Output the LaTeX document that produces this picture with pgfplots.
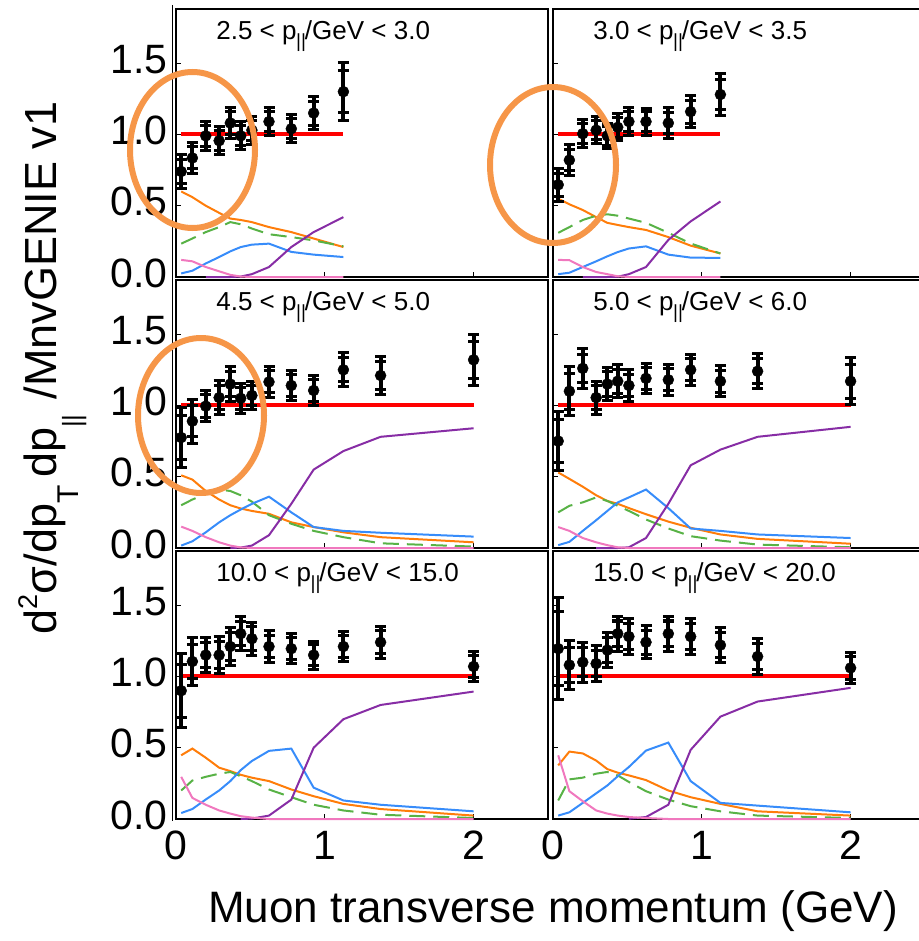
\documentclass[border=0pt]{standalone}
\usepackage{fontspec}
\setmainfont{Liberation Sans}
\usepackage{pgfplots}
\usepackage{pgfplotstable}
\pgfplotsset{compat=1.18}

\definecolor{cqe}{RGB}{255,125,10}
\definecolor{cnp}{RGB}{88,178,70}
\definecolor{cres}{RGB}{55,140,250}
\definecolor{cdis}{RGB}{135,45,165}
\definecolor{ccoh}{RGB}{240,120,190}
\definecolor{chl}{RGB}{246,150,72}

% columns: pT bin centre, data/MC ratio, total error, stat error,
% QE, 2p2h, resonant, DIS, coherent (all relative to MnvGENIE v1)
\pgfplotstableread{
x     d     et    es    qe    np    res   dis   coh
0.035 0.74  0.120 0.086 0.60  0.234 0.025 nan   0.12
0.11  0.835 0.107 0.077 0.56  0.27  0.044 nan   0.11
0.2   0.99  0.104 0.075 0.50  0.315 0.095 0     0.07
0.29  0.956 0.097 0.070 0.45  0.35  0.14  0     0.04
0.365 1.08  0.110 0.079 0.41  0.385 0.18  0     0.015
0.435 0.99  0.098 0.071 0.40  0.37  0.21  0.003 0.003
0.51  1.03  0.098 0.071 0.385 0.34  0.227 0.02  0
0.625 1.09  0.098 0.071 0.35  0.30  0.234 0.07  0
0.775 1.04  0.097 0.070 0.315 0.28  0.176 0.21  0
0.925 1.15  0.116 0.084 0.27  0.257 0.157 0.315 0
1.125 1.30  0.205 0.148 0.21  0.215 0.14  0.42  0
}\tabA
\pgfplotstableread{
x     d     et    es    qe    np    res   dis   coh
0.035 0.647 0.114 0.082 0.55  0.31  0.02  nan   0.12
0.11  0.82  0.106 0.076 0.51  0.35  0.03  nan   0.118
0.2   1.005 0.098 0.071 0.47  0.40  0.07  0     0.07
0.29  1.03  0.094 0.068 0.42  0.43  0.11  0     0.035
0.365 0.99  0.090 0.065 0.38  0.44  0.145 0     0.02
0.435 1.05  0.094 0.068 0.365 0.43  0.175 0.002 0.005
0.51  1.09  0.100 0.072 0.35  0.41  0.20  0.02  0
0.625 1.09  0.094 0.068 0.33  0.38  0.215 0.07  0
0.775 1.08  0.106 0.076 0.28  0.31  0.157 0.26  0
0.925 1.16  0.112 0.081 0.22  0.235 0.136 0.39  0
1.125 1.28  0.147 0.106 0.165 0.165 0.134 0.53  0
}\tabB
\pgfplotstableread{
x     d     et    es    qe    np    res   dis   coh
0.035 0.775 0.213 0.153 0.51  0.30  0.017 nan   0.15
0.11  0.89  0.154 0.111 0.48  0.34  0.047 nan   0.12
0.2   0.995 0.110 0.079 0.40  0.38  0.11  nan   0.076
0.29  1.055 0.118 0.085 0.34  0.41  0.18  nan   0.04
0.365 1.15  0.120 0.086 0.30  0.40  0.23  0     0.017
0.435 1.05  0.107 0.077 0.277 0.37  0.27  0.003 0.004
0.51  1.07  0.100 0.072 0.26  0.325 0.31  0.017 0
0.625 1.165 0.107 0.077 0.24  0.23  0.36  0.09  0
0.775 1.14  0.107 0.077 0.18  0.17  0.25  0.31  0
0.925 1.105 0.107 0.077 0.147 0.12  0.147 0.55  0
1.125 1.25  0.118 0.085 0.11  0.076 0.12  0.68  0
1.375 1.21  0.134 0.096 0.076 0.033 0.107 0.78  0
2.0   1.32  0.178 0.128 0.04  0.01  0.08  0.84  0
}\tabC
\pgfplotstableread{
x     d     et    es    qe    np    res   dis   coh
0.035 0.75  0.207 0.149 0.53  0.25  0.02  nan   0.147
0.11  1.10  0.174 0.125 0.485 0.296 0.043 nan   0.12
0.2   1.26  0.139 0.100 0.43  0.32  0.12  nan   0.07
0.29  1.055 0.115 0.083 0.37  0.355 0.195 0     0.04
0.365 1.15  0.118 0.085 0.33  0.33  0.26  0     0.02
0.435 1.17  0.116 0.084 0.31  0.296 0.32  0     0.005
0.51  1.14  0.109 0.078 0.28  0.26  0.355 0.005 0
0.625 1.19  0.107 0.077 0.237 0.20  0.41  0.07  0
0.775 1.18  0.107 0.077 0.185 0.137 0.28  0.31  0
0.925 1.25  0.107 0.077 0.142 0.083 0.137 0.58  0
1.125 1.17  0.107 0.077 0.095 0.052 0.12  0.69  0
1.375 1.24  0.122 0.088 0.064 0.024 0.095 0.78  0
2.0   1.17  0.166 0.120 0.03  0.005 0.07  0.85  0
}\tabD
\pgfplotstableread{
x     d     et    es    qe    np    res   dis   coh
0.035 0.90  0.259 0.186 0.447 0.20  0.042 nan   0.296
0.11  1.105 0.168 0.121 0.494 0.27  0.07  nan   0.148
0.2   1.15  0.124 0.089 0.43  0.296 0.137 nan   0.10
0.29  1.15  0.132 0.095 0.36  0.318 0.20  nan   0.06
0.365 1.21  0.133 0.096 0.336 0.33  0.266 nan   0.038
0.435 1.30  0.120 0.086 0.31  0.30  0.343 0     0.02
0.51  1.265 0.115 0.083 0.29  0.266 0.407 0.003 0.01
0.625 1.21  0.109 0.078 0.266 0.207 0.478 0.024 0
0.775 1.195 0.106 0.076 0.207 0.153 0.494 0.136 0
0.925 1.15  0.098 0.071 0.16  0.10  0.22  0.50  0
1.125 1.21  0.104 0.075 0.106 0.06  0.13  0.70  0
1.375 1.24  0.112 0.081 0.07  0.03  0.10  0.80  0
2.0   1.07  0.107 0.077 0.024 0.007 0.054 0.894 0
}\tabE
\pgfplotstableread{
x     d     et    es    qe    np    res   dis   coh
0.035 1.195 0.359 0.258 0.376 0.13  0.024 nan   0.447
0.11  1.08  0.169 0.122 0.473 0.278 0.047 nan   0.195
0.2   1.10  0.141 0.102 0.46  0.29  0.113 nan   0.125
0.29  1.09  0.126 0.091 0.41  0.318 0.18  nan   0.06
0.365 1.185 0.124 0.089 0.35  0.33  0.235 nan   0.038
0.435 1.30  0.124 0.089 0.325 0.306 0.30  nan   0.024
0.51  1.28  0.124 0.089 0.306 0.26  0.365 0.002 0.014
0.625 1.24  0.115 0.083 0.273 0.195 0.48  0.014 0.007
0.775 1.30  0.124 0.089 0.20  0.136 0.536 0.10  0
0.925 1.28  0.124 0.089 0.153 0.09  0.266 0.485 0
1.125 1.22  0.122 0.088 0.106 0.054 0.113 0.718 0
1.375 1.14  0.124 0.089 0.054 0.024 0.094 0.824 0
2.0   1.06  0.108 0.078 0.024 0.007 0.047 0.92  0
}\tabF

\pgfplotsset{
  panel/.style={
    scale only axis, width=372pt, height=268pt,
    xmin=0, xmax=2.5, ymin=0, ymax=1.88,
    clip=false, anchor=south west,
    axis line style={line width=1.6pt},
    xtick={0,1,2}, ytick={0,0.5,1,1.5},
    xtick pos=left, ytick pos=left,
    tick align=inside, major tick length=5pt,
    every tick/.style={black, line width=1.2pt},
    xticklabels={}, yticklabels={},
  },
  ylabs/.style={
    yticklabels={0.0,0.5,1.0,1.5},
    yticklabel style={font=\fontsize{41}{41}\selectfont, inner sep=0pt,
      anchor=east, xshift=-8pt, yshift=4pt},
  },
  xlabs/.style={
    xticklabels={0,1,2},
    xticklabel style={font=\fontsize{41}{41}\selectfont, inner sep=0pt,
      anchor=north, yshift=-12pt},
  },
  databars/.style={
    error bars/.cd, y dir=both, y explicit,
    error bar style={line width=4pt, black},
    error mark options={black, rotate=90, line width=3pt, mark size=5.5pt},
  },
}

\newcommand{\pll}{p\kern-0.5pt\raisebox{-8pt}{\fontsize{19}{19}\selectfont ||}\kern-1pt}
\newcommand{\bintitle}[1]{\node[anchor=base west, inner sep=0pt,
  font=\fontsize{26}{26}\selectfont] at (rel axis cs:0.108,0.886) {#1};}

% model components, unit reference line, and data with total and
% statistical error bars
\newcommand{\panelcontent}[2]{%
  \addplot[cqe, line width=2pt] table[x=x, y=qe] {#1};
  \addplot[cnp, line width=2pt, dash pattern=on 16pt off 8pt] table[x=x, y=np] {#1};
  \addplot[cres, line width=2pt] table[x=x, y=res] {#1};
  \addplot[cdis, line width=2pt] table[x=x, y=dis] {#1};
  \addplot[ccoh, line width=2pt] table[x=x, y=coh] {#1};
  \addplot[red, line width=4pt] coordinates {(0.035,1) (#2,1)};
  \addplot[black, only marks, mark=*, mark size=5.5pt, databars]
    table[x=x, y=d, y error=et] {#1};
  \addplot[black, only marks, mark=none, databars]
    table[x=x, y=d, y error=es] {#1};
}

\begin{document}
\begin{tikzpicture}
\path[use as bounding box] (0pt,0pt) rectangle (918pt,-941pt);

% top row
\begin{axis}[panel, ylabs, at={(176pt,-277pt)}]
  \panelcontent{\tabA}{1.125}
  \bintitle{2.5 < \pll/GeV < 3.0}
\end{axis}
\begin{axis}[panel, at={(553pt,-277pt)}]
  \panelcontent{\tabB}{1.125}
  \bintitle{3.0 < \pll/GeV < 3.5}
\end{axis}

% middle row
\begin{axis}[panel, ylabs, at={(176pt,-548pt)}]
  \panelcontent{\tabC}{2.0}
  \bintitle{4.5 < \pll/GeV < 5.0}
\end{axis}
\begin{axis}[panel, at={(553pt,-548pt)}]
  \panelcontent{\tabD}{2.0}
  \bintitle{5.0 < \pll/GeV < 6.0}
\end{axis}

% bottom row
\begin{axis}[panel, ylabs, xlabs, at={(176pt,-819pt)}]
  \panelcontent{\tabE}{2.0}
  \bintitle{10.0 < \pll/GeV < 15.0}
\end{axis}
\begin{axis}[panel, xlabs, at={(553pt,-819pt)}]
  \panelcontent{\tabF}{2.0}
  \bintitle{15.0 < \pll/GeV < 20.0}
\end{axis}

% outer frame line on the left of the panel column
\draw[line width=1.2pt] (172.5pt,-5pt) -- (172.5pt,-821pt);

% axis titles
\node[rotate=90, anchor=base, inner sep=0pt, font=\fontsize{45}{45}\selectfont]
  at (56pt,-368pt)
  {d\raisebox{0.42em}{\fontsize{27}{27}\selectfont 2}σ/dp\raisebox{-0.5em}{\fontsize{30}{30}\selectfont T}\,dp\raisebox{-0.55em}{\fontsize{26}{26}\selectfont ||}\,\,/MnvGENIE v1};
\node[anchor=base, inner sep=0pt, font=\fontsize{44}{44}\selectfont]
  at (553pt,-922pt) {Muon transverse momentum (GeV)};

% highlighted low-pT regions
\draw[chl, line width=6pt] (192.5pt,-150pt) ellipse [x radius=62.5pt, y radius=78pt];
\draw[chl, line width=6pt] (553pt,-165pt) ellipse [x radius=63pt, y radius=78pt];
\draw[chl, line width=6pt] (201pt,-415.5pt) ellipse [x radius=63pt, y radius=77.5pt];
\end{tikzpicture}
\end{document}
